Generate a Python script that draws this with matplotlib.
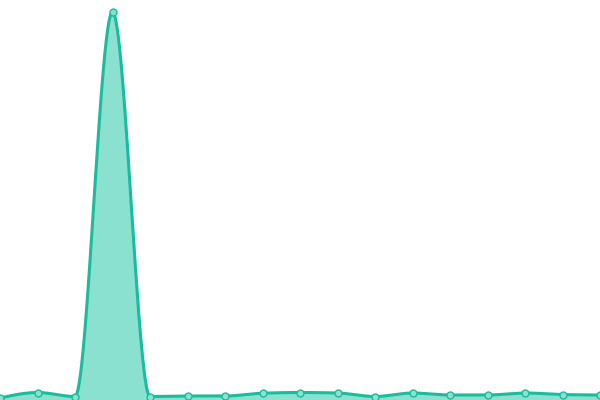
import numpy as np
import matplotlib
matplotlib.use("Agg")
import matplotlib.pyplot as plt

# Data (one point every 37.5 px)
x_idx = list(range(17))
values = [2, 7.5, 3.5, 388, 3.5, 4, 4, 6.8, 7.5, 7, 3.5, 7, 5, 5, 7, 5.5, 5]

LINE = "#1abc9c"
FILL = "#8ae1cf"


def monotone_x(x, y, n=40):
    # d3 curveMonotoneX style interpolation (Fritsch-Carlson slopes)
    x = np.asarray(x, float)
    y = np.asarray(y, float)
    h = np.diff(x)
    s = np.diff(y) / h
    m = np.zeros_like(y)
    for i in range(1, len(y) - 1):
        if s[i - 1] * s[i] <= 0:
            m[i] = 0
        else:
            p = (s[i - 1] * h[i] + s[i] * h[i - 1]) / (h[i - 1] + h[i])
            m[i] = (np.sign(s[i - 1]) + np.sign(s[i])) * min(abs(s[i - 1]), abs(s[i]), 0.5 * abs(p))
    m[0] = (3 * s[0] - m[1]) / 2 if len(y) > 2 else s[0]
    m[-1] = (3 * s[-1] - m[-2]) / 2
    xs, ys = [], []
    for i in range(len(h)):
        t = np.linspace(0, 1, n, endpoint=False)
        h00 = 2 * t**3 - 3 * t**2 + 1
        h10 = t**3 - 2 * t**2 + t
        h01 = -2 * t**3 + 3 * t**2
        h11 = t**3 - t**2
        xs.append(x[i] + t * h[i])
        ys.append(h00 * y[i] + h10 * h[i] * m[i] + h01 * y[i + 1] + h11 * h[i] * m[i + 1])
    xs.append([x[-1]])
    ys.append([y[-1]])
    return np.concatenate(xs), np.concatenate(ys)


fig = plt.figure(figsize=(6, 4), dpi=100)
ax = fig.add_axes([0, 0, 1, 1])

cx, cy = monotone_x(x_idx, values)
ax.fill_between(cx, 0, cy, color=FILL, lw=0)
ax.plot(cx, cy, color=LINE, lw=2.2, solid_joinstyle="round")
ax.plot(x_idx, values, "o", ms=5, mfc=FILL, mec=LINE, mew=1)

ax.set_xlim(0, 16)
ax.set_ylim(0, 400)
ax.axis("off")

fig.savefig("out.png", dpi=100)
